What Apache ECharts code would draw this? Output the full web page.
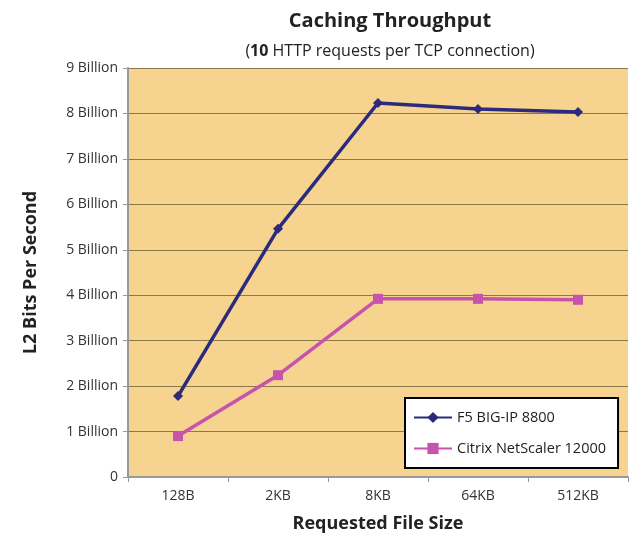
<!DOCTYPE html>
<html><head><meta charset="utf-8">
<script src="https://cdn.jsdelivr.net/npm/echarts@6/dist/echarts.min.js"></script>
<style>html,body{margin:0;padding:0;background:#fff}#c{width:631px;height:539px}</style>
</head><body><div id="c"></div>
<script>
const categories = ['128B','2KB','8KB','64KB','512KB'];
const f5Values = [1.78, 5.46, 8.23, 8.10, 8.03];
const citrixValues = [0.90, 2.24, 3.92, 3.92, 3.90];
const yTickLabels = ['0','1 Billion','2 Billion','3 Billion','4 Billion','5 Billion','6 Billion','7 Billion','8 Billion','9 Billion'];
const seriesNames = ['F5 BIG-IP 8800','Citrix NetScaler 12000'];

const font = 'Open Sans, Noto Sans, sans-serif';
const chart = echarts.init(document.getElementById('c'), null, {renderer:'canvas'});
chart.setOption({
  animation:false,
  backgroundColor:'#ffffff',
  title:[
    {text:'Caching Throughput', left:385, top:6, textAlign:'center',
     textStyle:{fontFamily:font, fontSize:20, fontWeight:'bold', color:'#222'}},
    {text:'({b|10} HTTP requests per TCP connection)', left:385, top:38, textAlign:'center',
     textStyle:{fontFamily:font, fontSize:16, fontWeight:'normal', color:'#222',
       rich:{b:{fontFamily:font, fontSize:16, fontWeight:'bold', color:'#222'}}}}
  ],
  grid:{left:128, right:3, top:68, bottom:62, show:true, backgroundColor:'#F6D48F', borderWidth:0,
        containLabel:false, outerBoundsMode:'none'},
  legend:{
    orient:'vertical', left:405, top:398, width:214,
    backgroundColor:'#ffffff', borderColor:'#000', borderWidth:2,
    padding:[12,12,12,8], itemGap:16, itemWidth:38, itemHeight:14,
    textStyle:{fontFamily:font, fontSize:14.5, color:'#222'},
    data:seriesNames
  },
  xAxis:{
    type:'category', data:categories, boundaryGap:true,
    name:'Requested File Size', nameLocation:'middle', nameGap:38,
    nameTextStyle:{fontFamily:font, fontSize:18, fontWeight:'bold', color:'#222'},
    axisLine:{lineStyle:{color:'#999', width:2}},
    axisTick:{show:true, length:5, lineStyle:{color:'#999'}},
    axisLabel:{fontFamily:font, fontSize:14, color:'#333', margin:12}
  },
  yAxis:{
    type:'value', min:0, max:9, interval:1,
    name:'L2 Bits Per Second', nameLocation:'middle', nameGap:88, nameRotate:90,
    nameTextStyle:{fontFamily:font, fontSize:18, fontWeight:'bold', color:'#222'},
    axisLine:{show:true, lineStyle:{color:'#999', width:2}},
    axisTick:{show:true, length:5, lineStyle:{color:'#999'}},
    axisLabel:{fontFamily:font, fontSize:14, color:'#333', margin:10,
      formatter:(v)=>yTickLabels[Math.round(v)]},
    splitLine:{show:true, lineStyle:{color:'#8a7a4a', width:1}}
  },
  series:[
    {name:seriesNames[0], type:'line', data:f5Values, symbol:'diamond', symbolSize:10,
     lineStyle:{color:'#2B2A7C', width:3.5}, itemStyle:{color:'#2B2A7C'}},
    {name:seriesNames[1], type:'line', data:citrixValues, symbol:'rect', symbolSize:10,
     lineStyle:{color:'#C653AC', width:3.5}, itemStyle:{color:'#C653AC'}}
  ]
});
</script></body></html>
